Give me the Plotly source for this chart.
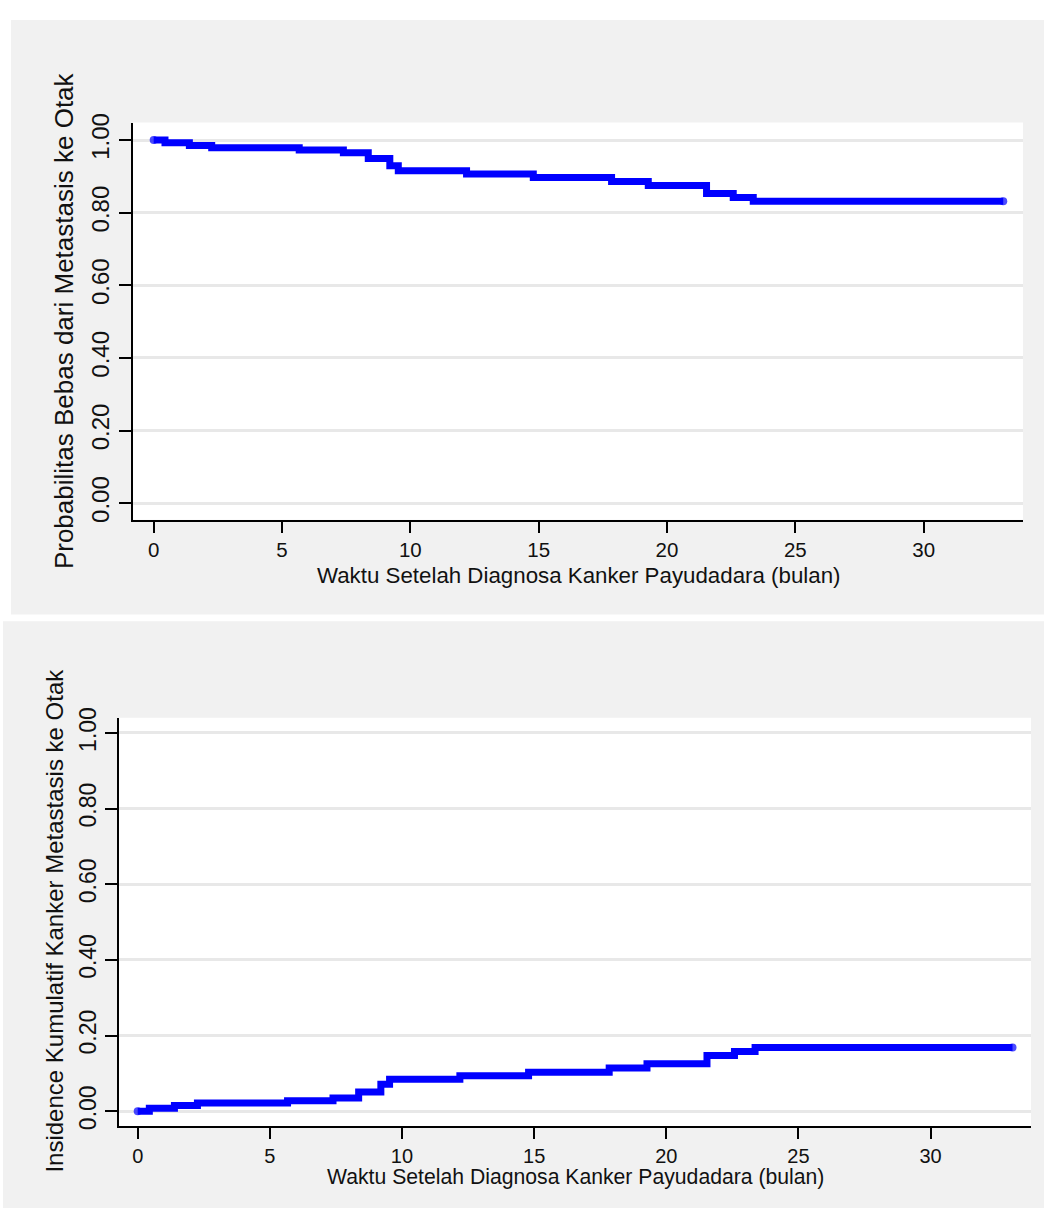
import plotly.graph_objects as go

# Event times (months) and step levels
times = [0.0, 0.44, 1.39, 2.26, 5.67, 7.39, 8.36, 9.20, 9.53, 12.19, 14.79, 17.84, 19.27, 21.54, 22.58, 23.36, 33.10]
survival = [1.000, 0.9925, 0.985, 0.9785, 0.9722, 0.9653, 0.949, 0.929, 0.9155, 0.9065, 0.897, 0.8855, 0.8747, 0.853, 0.842, 0.8315, 0.8315]
incidence = [0.000, 0.0075, 0.015, 0.0215, 0.0278, 0.0347, 0.051, 0.071, 0.0845, 0.0935, 0.103, 0.1145, 0.1253, 0.147, 0.158, 0.1685, 0.1685]

y_ticks = [0.0, 0.2, 0.4, 0.6, 0.8, 1.0]
x_ticks = [0, 5, 10, 15, 20, 25, 30]

x_title = "Waktu Setelah Diagnosa Kanker Payudadara (bulan)"
y_title_top = "Probabilitas Bebas dari Metastasis ke Otak"
y_title_bottom = "Insidence Kumulatif Kanker Metastasis ke Otak"

W, H = 1044, 1212
FONT = "Liberation Sans, Arial, sans-serif"
BLUE = "#0000ff"
PANEL = "#f1f1f1"

def px(x):
    return x / W

def py(y):
    return 1 - y / H

cap = [8] + [0] * (len(times) - 2) + [8]

fig = go.Figure()
fig.add_trace(go.Scatter(x=times, y=survival, mode="lines+markers", line=dict(color=BLUE, width=7, shape="hv"),
                         marker=dict(size=cap, color=BLUE, line=dict(width=0)),
                         xaxis="x", yaxis="y", showlegend=False, hoverinfo="skip"))
fig.add_trace(go.Scatter(x=times, y=incidence, mode="lines+markers", line=dict(color=BLUE, width=7, shape="hv"),
                         marker=dict(size=cap, color=BLUE, line=dict(width=0)),
                         xaxis="x2", yaxis="y2", showlegend=False, hoverinfo="skip"))

def xaxis(domain, rng, anchor, fs):
    return dict(domain=domain, range=rng, anchor=anchor, tickvals=x_ticks, showgrid=False, zeroline=False,
                showline=True, linecolor="black", linewidth=2, ticks="outside", ticklen=11, tickwidth=2,
                tickcolor="black", tickfont=dict(family=FONT, size=fs, color="#111"), fixedrange=True)

def yaxis(domain, rng, anchor, fs):
    return dict(domain=domain, range=rng, anchor=anchor, tickvals=y_ticks, tickformat=".2f", tickangle=-90,
                showgrid=True, gridcolor="#e8e8e8", gridwidth=2.5, zeroline=False,
                showline=True, linecolor="black", linewidth=2, ticks="outside", ticklen=12, tickwidth=2,
                tickcolor="black", tickfont=dict(family=FONT, size=fs, color="#111"), fixedrange=True)

top_x = [132.7, 1023]
top_y = [113, 515]
bot_x = [119, 1031]
bot_y = [715.7, 1129]

fig.update_layout(
    width=W, height=H, margin=dict(l=0, r=0, t=0, b=0),
    paper_bgcolor="white", plot_bgcolor="white",
    xaxis=xaxis([px(top_x[0]), px(top_x[1])], [-0.818, 33.87], "y", 20.5),
    yaxis=yaxis([py(top_y[1]), py(top_y[0])], [-0.0454, 1.048], "x", 24),
    xaxis2=xaxis([px(bot_x[0]), px(bot_x[1])], [-0.7075, 33.80], "y2", 20),
    yaxis2=yaxis([py(bot_y[1]), py(bot_y[0])], [-0.0392, 1.040], "x2", 23),
    shapes=[
        dict(type="rect", xref="paper", yref="paper", x0=px(11), x1=1, y0=py(611), y1=py(9),
             fillcolor=PANEL, line=dict(width=0), layer="below"),
        dict(type="rect", xref="paper", yref="paper", x0=px(3), x1=1, y0=0, y1=py(618),
             fillcolor=PANEL, line=dict(width=0), layer="below"),
        dict(type="rect", xref="paper", yref="paper", x0=px(top_x[0]), x1=px(top_x[1]), y0=py(top_y[1]), y1=py(top_y[0]),
             fillcolor="white", line=dict(width=0), layer="below"),
        dict(type="rect", xref="paper", yref="paper", x0=px(bot_x[0]), x1=px(bot_x[1]), y0=py(bot_y[1]), y1=py(bot_y[0]),
             fillcolor="white", line=dict(width=0), layer="below"),
    ],
    annotations=[
        dict(text=x_title, xref="paper", yref="paper", x=px(578), y=py(572), xanchor="center", yanchor="middle",
             showarrow=False, font=dict(family=FONT, size=22.3, color="#111")),
        dict(text=y_title_top, xref="paper", yref="paper", x=px(64), y=py(314), xanchor="center", yanchor="middle",
             textangle=-90, showarrow=False, font=dict(family=FONT, size=26, color="#111")),
        dict(text=x_title, xref="paper", yref="paper", x=px(575), y=py(1181), xanchor="center", yanchor="middle",
             showarrow=False, font=dict(family=FONT, size=21.2, color="#111")),
        dict(text=y_title_bottom, xref="paper", yref="paper", x=px(55), y=py(921), xanchor="center", yanchor="middle",
             textangle=-90, showarrow=False, font=dict(family=FONT, size=24, color="#111")),
    ],
)

post = ("document.documentElement.style.margin='0px';document.body.style.margin='0px';"
        "document.body.style.padding='0px';document.body.style.overflow='hidden';"
        "document.documentElement.style.overflow='hidden';"
        "var d=document.getElementById('{plot_id}');d.style.position='fixed';d.style.top='0px';d.style.left='0px';")

fig.write_html("out.html", config={"displayModeBar": False}, post_script=post)
